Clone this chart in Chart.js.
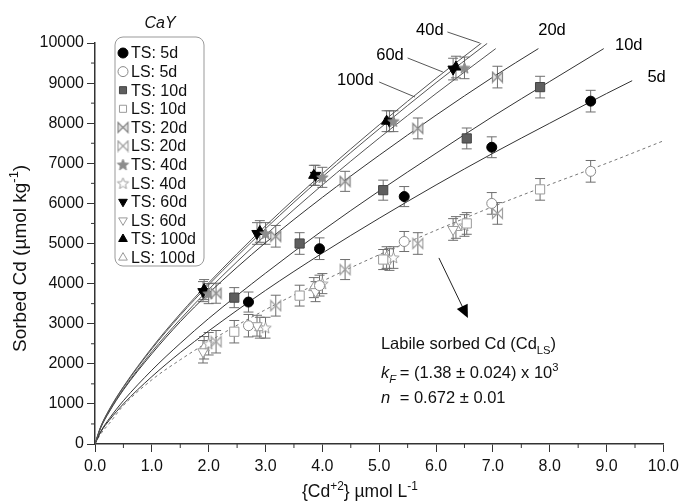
<!DOCTYPE html>
<html>
<head>
<meta charset="utf-8">
<script src="https://cdn.jsdelivr.net/npm/chart.js@4.4.0/dist/chart.umd.min.js"></script>
<style>
  html, body { margin: 0; padding: 0; background: #fff; }
  #wrap { width: 684px; height: 503px; }
</style>
</head>
<body>
<div id="wrap"><canvas id="isoChart" width="684" height="503"></canvas></div>
<script>
// ---- Data (x = {Cd+2} umol/L, y = sorbed Cd umol/kg) ----
const xs5   = [2.70, 3.95, 5.44, 6.98, 8.72];
const ts5   = [3540, 4870, 6170, 7400, 8550];
const ls5   = [2950, 3950, 5050, 6000, 6800];
const xs10  = [2.45, 3.60, 5.07, 6.54, 7.83];
const ts10  = [3650, 5000, 6330, 7620, 8900];
const ls10  = [2800, 3700, 4600, 5500, 6350];
const xs20  = [2.13, 3.18, 4.40, 5.68, 7.08];
const ts20  = [3760, 5180, 6550, 7870, 9150];
const ls20  = [2550, 3450, 4350, 5000, 5750];
const xs40  = [2.00, 3.00, 4.00, 5.25, 6.50];
const ts40  = [3750, 5250, 6650, 8050, 9380];
const ls40  = [2500, 2900, 4000, 4650, 5450];
const xs60  = [1.90, 2.85, 3.88, 5.18, 6.30];
const ts60  = [3800, 5250, 6700, 8050, 9350];
const ls60  = [2300, 2950, 3800, 4600, 5350];
const xs100 = [1.92, 2.90, 3.85, 5.13, 6.35];
const ts100 = [3850, 5300, 6700, 8050, 9400];
const ls100 = [2400, 2900, 3900, 4650, 5400];

// error bar half-lengths
const tsErr = [250, 270, 250, 260, 270];
const lsErr = [280, 260, 250, 270, 270];

// fitted isotherm curves
const cx100 = [0, 0.1, 0.25, 0.5, 1, 1.5, 2, 3, 4, 5, 6, 6.8];
const cy100 = [0, 430, 860, 1430, 2400, 3250, 4020, 5440, 6740, 7960, 9120, 10000];
const cx60  = [0, 0.1, 0.25, 0.5, 1, 1.5, 2, 3, 4, 5, 6, 6.9];
const cy60  = [0, 425, 845, 1415, 2370, 3210, 3970, 5370, 6660, 7860, 9010, 9990];
const cx40  = [0, 0.1, 0.25, 0.5, 1, 1.5, 2, 3, 4, 5, 6, 7.05];
const cy40  = [0, 415, 820, 1370, 2300, 3110, 3855, 5210, 6460, 7630, 8740, 9860];
const cx20  = [0, 0.1, 0.25, 0.5, 1, 1.5, 2, 3, 4, 5, 6, 7, 7.8];
const cy20  = [0, 400, 800, 1350, 2250, 3050, 3760, 5020, 6150, 7200, 8200, 9150, 9860];
const cx10  = [0, 0.1, 0.25, 0.5, 1, 1.5, 2, 3, 4, 5, 6, 7, 8, 8.95];
const cy10  = [0, 310, 630, 1080, 1840, 2510, 3130, 4260, 5320, 6310, 7250, 8170, 9040, 9860];
const cx5   = [0, 0.1, 0.25, 0.5, 1, 1.5, 2, 3, 4, 5, 6, 7, 8, 9, 9.45];
const cy5   = [0, 295, 590, 1000, 1680, 2280, 2820, 3830, 4760, 5630, 6460, 7250, 8000, 8740, 9060];
const cxLS  = [0, 0.1, 0.25, 0.5, 1, 1.5, 2, 3, 4, 5, 6, 7, 8, 9, 10];
const cyLS  = [0, 250, 510, 960, 1600, 2100, 2550, 3350, 4060, 4720, 5330, 5920, 6470, 7000, 7560];

const xTicks = [0, 1, 2, 3, 4, 5, 6, 7, 8, 9, 10];
const yTicks = [0, 1000, 2000, 3000, 4000, 5000, 6000, 7000, 8000, 9000, 10000];

const FONT = '"Liberation Sans", Arial, Helvetica, sans-serif';

function pts(xs, ys) { return xs.map((x, i) => ({ x: x, y: ys[i] })); }

// ---- custom marker glyphs ----
function bowtie(stroke, fill) {
  const r = 5, s = 2 * r + 3;
  const c = document.createElement('canvas'); c.width = c.height = s;
  const g = c.getContext('2d'); g.translate(s / 2, s / 2);
  g.beginPath();
  g.moveTo(-r, -r); g.lineTo(r, r); g.lineTo(r, -r); g.lineTo(-r, r); g.closePath();
  if (fill) { g.fillStyle = fill; g.fill(); }
  g.strokeStyle = stroke; g.lineWidth = 1.2; g.stroke();
  return c;
}
function star(fill, stroke) {
  const R = 6, r = 2.6, s = 2 * R + 3;
  const c = document.createElement('canvas'); c.width = c.height = s;
  const g = c.getContext('2d'); g.translate(s / 2, s / 2 + 0.5);
  g.beginPath();
  for (let k = 0; k < 10; k++) {
    const a = -Math.PI / 2 + k * Math.PI / 5, rr = k % 2 ? r : R;
    g.lineTo(rr * Math.cos(a), rr * Math.sin(a));
  }
  g.closePath();
  g.fillStyle = fill; g.fill();
  g.strokeStyle = stroke; g.lineWidth = 1; g.stroke();
  return c;
}

function marks(label, xs, ys, errs, style) {
  return Object.assign({
    type: 'scatter', label: label, data: pts(xs, ys), errs: errs,
    showLine: false, borderWidth: 1, order: 1
  }, style);
}
function curve(xs, ys, color, dash) {
  return {
    type: 'scatter', label: '', curve: true, data: pts(xs, ys), showLine: true,
    borderColor: color, borderWidth: 1, borderDash: dash || [], pointRadius: 0,
    pointHoverRadius: 0, cubicInterpolationMode: 'monotone', order: 2
  };
}

const datasets = [
  marks('TS: 5d', xs5, ts5, tsErr, { pointStyle: 'circle', pointRadius: 5, backgroundColor: '#000', borderColor: '#000' }),
  marks('LS: 5d', xs5, ls5, lsErr, { pointStyle: 'circle', pointRadius: 5, backgroundColor: '#fff', borderColor: '#8a8a8a' }),
  marks('TS: 10d', xs10, ts10, tsErr, { pointStyle: 'rect', pointRadius: 6.5, backgroundColor: '#5e5e5e', borderColor: '#444' }),
  marks('LS: 10d', xs10, ls10, lsErr, { pointStyle: 'rect', pointRadius: 6.5, backgroundColor: '#fff', borderColor: '#9a9a9a' }),
  marks('TS: 20d', xs20, ts20, tsErr, { pointStyle: bowtie('#888', '#e2e2e2'), pointRadius: 5, backgroundColor: '#888', borderColor: '#888' }),
  marks('LS: 20d', xs20, ls20, lsErr, { pointStyle: bowtie('#a0a0a0', null), pointRadius: 5, backgroundColor: '#aaa', borderColor: '#aaa' }),
  marks('TS: 40d', xs40, ts40, tsErr, { pointStyle: star('#8c8c8c', '#8c8c8c'), pointRadius: 5, backgroundColor: '#888', borderColor: '#888' }),
  marks('LS: 40d', xs40, ls40, lsErr, { pointStyle: star('#fff', '#a0a0a0'), pointRadius: 5, backgroundColor: '#fff', borderColor: '#aaa' }),
  marks('TS: 60d', xs60, ts60, tsErr, { pointStyle: 'triangle', pointRotation: 180, pointRadius: 6, backgroundColor: '#000', borderColor: '#000' }),
  marks('LS: 60d', xs60, ls60, lsErr, { pointStyle: 'triangle', pointRotation: 180, pointRadius: 6, backgroundColor: '#fff', borderColor: '#9a9a9a' }),
  marks('TS: 100d', xs100, ts100, tsErr, { pointStyle: 'triangle', pointRadius: 6, backgroundColor: '#000', borderColor: '#000' }),
  marks('LS: 100d', xs100, ls100, lsErr, { pointStyle: 'triangle', pointRadius: 6, backgroundColor: '#fff', borderColor: '#9a9a9a' }),
  curve(cx100, cy100, '#555'),
  curve(cx60, cy60, '#555'),
  curve(cx40, cy40, '#555'),
  curve(cx20, cy20, '#333'),
  curve(cx10, cy10, '#333'),
  curve(cx5, cy5, '#333'),
  curve(cxLS, cyLS, '#777', [3, 3])
];

// draw text with sub / superscripts and italics
function rich(ctx, x, y, size, parts) {
  let cx = x;
  parts.forEach(function (p) {
    const t = typeof p === 'string' ? p : p[0];
    const m = typeof p === 'string' ? '' : p[1];
    let fs = size, dy = 0;
    if (m.indexOf('sub') >= 0) { fs = size * 0.68; dy = size * 0.28; }
    if (m.indexOf('sup') >= 0) { fs = size * 0.68; dy = -size * 0.42; }
    ctx.font = (m.indexOf('i') === 0 ? 'italic ' : '') + fs + 'px ' + FONT;
    ctx.fillText(t, cx, y + dy);
    cx += ctx.measureText(t).width;
  });
  return cx;
}

// ---- error bars (under the markers) ----
const errorBars = {
  id: 'errorBars',
  beforeDatasetsDraw(chart) {
    const ctx = chart.ctx, ys = chart.scales.y;
    chart.data.datasets.forEach(function (ds, i) {
      if (!ds.errs) return;
      const meta = chart.getDatasetMeta(i);
      ctx.save();
      ctx.strokeStyle = '#6e6e6e'; ctx.lineWidth = 1;
      meta.data.forEach(function (pt, j) {
        const v = ds.data[j].y, e = ds.errs[j];
        const top = ys.getPixelForValue(v + e), bot = ys.getPixelForValue(v - e);
        ctx.beginPath();
        ctx.moveTo(pt.x, top); ctx.lineTo(pt.x, bot);
        ctx.moveTo(pt.x - 5, top); ctx.lineTo(pt.x + 5, top);
        ctx.moveTo(pt.x - 5, bot); ctx.lineTo(pt.x + 5, bot);
        ctx.stroke();
      });
      ctx.restore();
    });
  }
};

// ---- labels, legend, annotation, titles, minor ticks ----
const decorations = {
  id: 'decorations',
  afterDraw(chart) {
    const ctx = chart.ctx, xs = chart.scales.x, ys = chart.scales.y, ca = chart.chartArea;
    const px = v => xs.getPixelForValue(v), py = v => ys.getPixelForValue(v);
    ctx.save();

    // minor ticks
    ctx.strokeStyle = '#333'; ctx.lineWidth = 1;
    ctx.beginPath();
    for (let v = 0.5; v < 10; v += 1) { ctx.moveTo(px(v), ca.bottom); ctx.lineTo(px(v), ca.bottom + 4); }
    for (let v = 500; v < 10000; v += 1000) { ctx.moveTo(ca.left, py(v)); ctx.lineTo(ca.left - 4, py(v)); }
    ctx.stroke();

    // curve labels + leader lines
    ctx.fillStyle = '#000';
    ctx.font = '16.5px ' + FONT;
    ctx.textAlign = 'center'; ctx.textBaseline = 'middle';
    [['40d', 5.89, 10324], ['60d', 5.19, 9700], ['100d', 4.58, 9077],
     ['20d', 8.04, 10324], ['10d', 9.39, 9950], ['5d', 9.88, 9152]].forEach(function (l) {
      ctx.fillText(l[0], px(l[1]), py(l[2]));
    });
    ctx.strokeStyle = '#444'; ctx.lineWidth = 0.9;
    ctx.beginPath();
    [[6.2, 10274, 6.77, 10000], [5.5, 9626, 6.12, 9277], [5.0, 9027, 5.63, 8653]].forEach(function (s) {
      ctx.moveTo(px(s[0]), py(s[1])); ctx.lineTo(px(s[2]), py(s[3]));
    });
    ctx.stroke();

    // arrow toward the labile (LS) curve annotation
    const ax0 = px(6.05), ay0 = py(4640), ax1 = px(6.56), ay1 = py(3140);
    const ang = Math.atan2(ay1 - ay0, ax1 - ax0);
    ctx.strokeStyle = '#222'; ctx.lineWidth = 1;
    ctx.beginPath(); ctx.moveTo(ax0, ay0); ctx.lineTo(ax1 - 8 * Math.cos(ang), ay1 - 8 * Math.sin(ang)); ctx.stroke();
    ctx.beginPath();
    ctx.moveTo(ax1, ay1);
    ctx.lineTo(ax1 - 13 * Math.cos(ang) + 6 * Math.sin(ang), ay1 - 13 * Math.sin(ang) - 6 * Math.cos(ang));
    ctx.lineTo(ax1 - 13 * Math.cos(ang) - 6 * Math.sin(ang), ay1 - 13 * Math.sin(ang) + 6 * Math.cos(ang));
    ctx.closePath(); ctx.fillStyle = '#000'; ctx.fill();

    // annotation text
    ctx.textAlign = 'left'; ctx.textBaseline = 'alphabetic'; ctx.fillStyle = '#111';
    const tx = px(5.03), tx2 = px(5.36);
    rich(ctx, tx, py(2519) + 6, 16.5, ['Labile sorbed Cd (Cd', ['LS', 'sub'], ')']);
    rich(ctx, tx, py(1796) + 6, 16.5, [['k', 'i'], ['F', 'isub']]);
    rich(ctx, tx2, py(1796) + 6, 16.5, ['= (1.38 \u00b1 0.024) x 10', ['3', 'sup']]);
    rich(ctx, tx, py(1172) + 6, 16.5, [['n', 'i']]);
    rich(ctx, tx2, py(1172) + 6, 16.5, ['= 0.672 \u00b1 0.01']);

    // axis titles
    rich(ctx, 302, 497, 17.5, ['{Cd', ['+2', 'sup'], '} \u00b5mol L', ['-1', 'sup']]);
    ctx.save();
    ctx.translate(19, 352); ctx.rotate(-Math.PI / 2);
    rich(ctx, 0, 7, 19, ['Sorbed Cd (\u00b5mol kg', ['-1', 'sup'], ')']);
    ctx.restore();

    // legend title + box
    ctx.font = 'italic 16px ' + FONT; ctx.textAlign = 'center'; ctx.fillStyle = '#111';
    ctx.fillText('CaY', 160, 28);
    const bx = 115, by = 37, bw = 89, bh = 229, rad = 8;
    ctx.beginPath();
    ctx.moveTo(bx + rad, by); ctx.arcTo(bx + bw, by, bx + bw, by + bh, rad);
    ctx.arcTo(bx + bw, by + bh, bx, by + bh, rad); ctx.arcTo(bx, by + bh, bx, by, rad);
    ctx.arcTo(bx, by, bx + bw, by, rad); ctx.closePath();
    ctx.fillStyle = '#fff'; ctx.fill();
    ctx.strokeStyle = '#999'; ctx.lineWidth = 1; ctx.stroke();

    ctx.textAlign = 'left'; ctx.textBaseline = 'middle';
    ctx.font = '16px ' + FONT;
    let row = 0;
    chart.data.datasets.forEach(function (ds) {
      if (ds.curve) return;
      const yy = by + 16 + row * 18.6;
      ctx.fillStyle = ds.backgroundColor; ctx.strokeStyle = ds.borderColor; ctx.lineWidth = 1;
      Chart.helpers.drawPoint(ctx, {
        pointStyle: ds.pointStyle, radius: Math.min(ds.pointRadius, 5),
        rotation: ds.pointRotation || 0, borderWidth: 1
      }, 123, yy);
      ctx.fillStyle = '#111';
      ctx.fillText(ds.label, 131, yy + 1);
      row++;
    });
    ctx.restore();
  }
};

new Chart(document.getElementById('isoChart').getContext('2d'), {
  type: 'scatter',
  data: { datasets: datasets },
  options: {
    responsive: false,
    animation: false,
    layout: { padding: { left: 0, top: 43, right: 17, bottom: 0 } },
    scales: {
      x: {
        type: 'linear', min: 0, max: 10,
        afterBuildTicks: s => { s.ticks = xTicks.map(v => ({ value: v })); },
        afterFit: s => { s.height = 59; },
        grid: { display: true, drawOnChartArea: false, drawTicks: true, tickLength: 8, color: '#333' },
        border: { display: true, color: '#333', width: 1.5 },
        ticks: { autoSkip: false, maxRotation: 0, padding: 5, color: '#111', font: { size: 16, family: FONT }, callback: v => v.toFixed(1) }
      },
      y: {
        type: 'linear', min: 0, max: 10000,
        afterBuildTicks: s => { s.ticks = yTicks.map(v => ({ value: v })); },
        afterFit: s => { s.width = 95; },
        grid: { display: true, drawOnChartArea: false, drawTicks: true, tickLength: 8, color: '#333' },
        border: { display: true, color: '#333', width: 1.5 },
        ticks: { autoSkip: false, padding: 3, color: '#111', font: { size: 16, family: FONT }, callback: v => String(v) }
      }
    },
    plugins: { legend: { display: false }, tooltip: { enabled: false } }
  },
  plugins: [errorBars, decorations]
});
</script>
</body>
</html>
